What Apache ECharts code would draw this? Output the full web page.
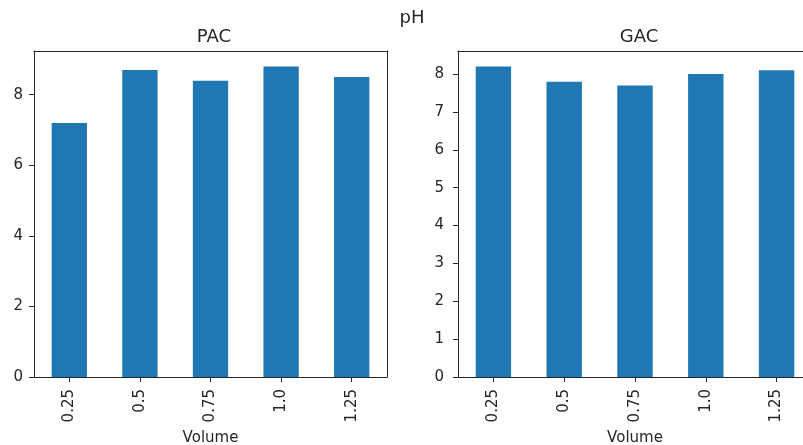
<!DOCTYPE html>
<html>
<head>
<meta charset="utf-8">
<script src="https://cdn.jsdelivr.net/npm/echarts@6/dist/echarts.min.js"></script>
<style>
  html, body { margin: 0; padding: 0; background: #fff; }
  #chart { width: 803px; height: 445px; }
</style>
</head>
<body>
<div id="chart"></div>
<script>
// Volume levels (x categories) shared by both panels
const volumes = ['0.25', '0.5', '0.75', '1.0', '1.25'];
// pH readings per adsorbent
const pacPH = [7.2, 8.7, 8.4, 8.8, 8.5];
const gacPH = [8.2, 7.8, 7.7, 8.0, 8.1];

const FONT = 'DejaVu Sans';
const INK = '#262626';
const BAR = '#1f77b4';

function xAxisFor(gridIndex) {
  return {
    type: 'category',
    gridIndex: gridIndex,
    data: volumes,
    name: 'Volume',
    nameLocation: 'middle',
    nameGap: 48,
    nameTextStyle: { color: INK, fontFamily: FONT, fontSize: 15 },
    axisLine: { show: true, onZero: false, lineStyle: { color: INK, width: 1 } },
    axisTick: { show: true, alignWithLabel: true, inside: false, length: 5, lineStyle: { color: INK } },
    axisLabel: { rotate: 90, margin: 12, color: INK, fontFamily: FONT, fontSize: 15 },
    splitLine: { show: false }
  };
}

// plain spine along the top of a panel
function topSpine(gridIndex) {
  return {
    type: 'category', gridIndex: gridIndex, data: volumes, position: 'top',
    axisLine: { show: true, onZero: false, lineStyle: { color: INK, width: 1 } },
    axisTick: { show: false }, axisLabel: { show: false }, splitLine: { show: false }
  };
}

function yAxisFor(gridIndex, step, margin) {
  return {
    type: 'value',
    gridIndex: gridIndex,
    position: 'left',
    min: 0,
    max: function (v) { return v.max * 1.05; },
    interval: step,
    axisLine: { show: true, onZero: false, lineStyle: { color: INK, width: 1 } },
    axisTick: { show: true, inside: false, length: 5, lineStyle: { color: INK } },
    axisLabel: {
      margin: margin, color: INK, fontFamily: FONT, fontSize: 15,
      showMaxLabel: false
    },
    splitLine: { show: false }
  };
}

// plain spine along the right side of a panel
function rightSpine(gridIndex) {
  return {
    type: 'value', gridIndex: gridIndex, position: 'right',
    min: 0, max: 1,
    axisLine: { show: true, onZero: false, lineStyle: { color: INK, width: 1 } },
    axisTick: { show: false }, axisLabel: { show: false }, splitLine: { show: false }
  };
}

const chart = echarts.init(document.getElementById('chart'), null, { renderer: 'canvas' });
chart.setOption({
  backgroundColor: '#ffffff',
  animation: false,
  title: [
    { text: 'pH', left: 407, top: 4, textAlign: 'center',
      textStyle: { color: INK, fontFamily: FONT, fontSize: 18, fontWeight: 'normal' } },
    { text: 'PAC', left: 209, top: 23, textAlign: 'center',
      textStyle: { color: INK, fontFamily: FONT, fontSize: 18, fontWeight: 'normal' } },
    { text: 'GAC', left: 634, top: 23, textAlign: 'center',
      textStyle: { color: INK, fontFamily: FONT, fontSize: 18, fontWeight: 'normal' } }
  ],
  grid: [
    { left: 34, width: 353, top: 51, bottom: 68, show: false, outerBoundsMode: 'none' },
    { left: 458, width: 354, top: 51, bottom: 68, show: false, outerBoundsMode: 'none' }
  ],
  xAxis: [xAxisFor(0), xAxisFor(1), topSpine(0), topSpine(1)],
  yAxis: [yAxisFor(0, 2, 11), yAxisFor(1, 1, 14), rightSpine(0)],
  series: [
    { type: 'bar', xAxisIndex: 0, yAxisIndex: 0, data: pacPH, barWidth: '50%',
      itemStyle: { color: BAR } },
    { type: 'bar', xAxisIndex: 1, yAxisIndex: 1, data: gacPH, barWidth: '50%',
      itemStyle: { color: BAR } }
  ]
});
</script>
</body>
</html>
